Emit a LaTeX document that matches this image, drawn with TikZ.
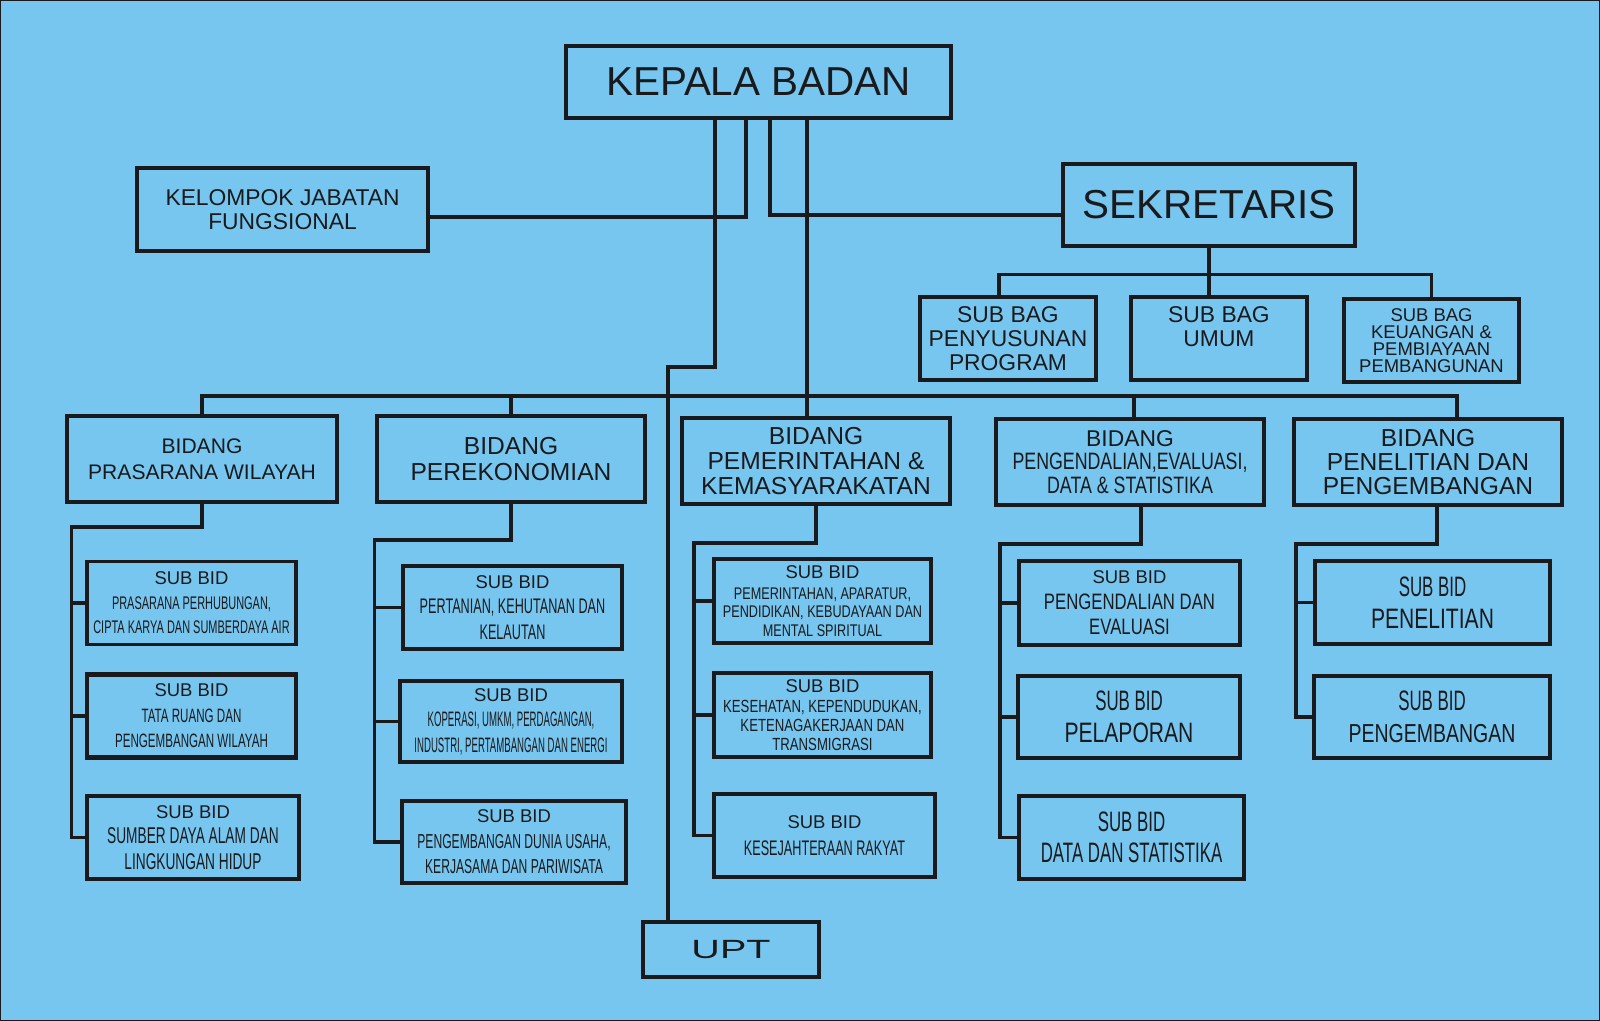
\documentclass[tikz,border=0pt]{standalone}
\usepackage{fontspec}
\setmainfont{Liberation Sans}
\newfontfamily\narrowfont[FakeStretch=0.75]{Liberation Sans}
\newfontfamily\condfont[FakeStretch=0.6]{Liberation Sans}
\newfontfamily\squeezefont[FakeStretch=0.46]{Liberation Sans}
\newfontfamily\widefont[FakeStretch=1.5]{Liberation Sans}
\usetikzlibrary{positioning}
\definecolor{skyblue}{RGB}{118,198,240}
\definecolor{inkline}{RGB}{26,26,28}
\newcommand{\setfs}[2]{\fontsize{#1}{#2}\selectfont}
\newcommand{\cnd}[2]{{\condfont\fontsize{#1}{16}\selectfont #2}}
\newcommand{\nrw}[2]{{\narrowfont\fontsize{#1}{16}\selectfont #2}}
\newcommand{\sqz}[2]{{\squeezefont\fontsize{#1}{16}\selectfont #2}}

\begin{document}
\begin{tikzpicture}[
    x=0.02cm, y=-0.02cm,
    unit/.style={draw=inkline, line width=1.9pt, align=center, inner sep=0pt, text=inkline},
    bidang/.style={unit, minimum width=5.36cm, minimum height=1.72cm},
    subbag/.style={unit, minimum width=3.52cm, minimum height=1.66cm, font=\setfs{13}{13.5}},
    subbid/.style={unit, minimum height=1.66cm},
    link/.style={draw=inkline, line width=1.9pt}
]

% background
\useasboundingbox (0,0) rectangle (1600,1021);
\fill[skyblue] (0,0) rectangle (1600,1021);
\draw[inkline, line width=0.8pt] (0.5,0.5) rectangle (1599.5,1020.5);

% top level
\node[unit, minimum width=7.7cm, minimum height=1.44cm, font=\setfs{23}{26}] (kepala) at (758.5,82) {KEPALA BADAN};
\node[unit, minimum width=5.82cm, minimum height=1.66cm, font=\setfs{13}{14}] (kelompok) at (282.5,209.5) {KELOMPOK JABATAN\\FUNGSIONAL};
\node[unit, minimum width=5.84cm, minimum height=1.64cm, font=\setfs{23}{26}] (sekretaris) at (1209,205) {SEKRETARIS};

% sub bagian
\node[subbag] (sbprog) at (1008,338.5) {SUB BAG\\PENYUSUNAN\\PROGRAM};
\node[subbag] (sbumum) at (1219,338.5) {SUB BAG\\UMUM\\~};
\node[subbag, minimum width=3.5cm, font=\setfs{10.5}{9.6}] (sbkeu) at (1431.5,340.5) {SUB BAG\\KEUANGAN \&\\PEMBIAYAAN\\PEMBANGUNAN};

% bidang
\node[bidang, minimum width=5.4cm, font=\setfs{12}{14.5}] (bid1) at (202,459) {BIDANG\\PRASARANA WILAYAH};
\node[bidang, font=\setfs{14}{15}] (bid2) at (511,459) {BIDANG\\PEREKONOMIAN};
\node[bidang, font=\setfs{14}{14}] (bid3) at (816,461) {BIDANG\\PEMERINTAHAN \&\\KEMASYARAKATAN};
\node[bidang, font=\setfs{13}{13.5}] (bid4) at (1130,462) {BIDANG\\\nrw{13.5}{PENGENDALIAN,EVALUASI,}\\\nrw{13.5}{DATA \& STATISTIKA}};
\node[bidang, font=\setfs{14}{13.5}] (bid5) at (1428,462) {BIDANG\\PENELITIAN DAN\\PENGEMBANGAN};

% sub bidang prasarana wilayah
\node[subbid, minimum width=4.18cm, font=\setfs{10.5}{14}] (p1a) at (191.5,603) {SUB BID\\\cnd{10.4}{PRASARANA PERHUBUNGAN,}\\\cnd{10.4}{CIPTA KARYA DAN SUMBERDAYA AIR}};
\node[subbid, minimum width=4.18cm, line width=2.3pt, font=\setfs{10.5}{14.5}] (p1b) at (191.5,716) {SUB BID\\\cnd{11}{TATA RUANG DAN}\\\cnd{11}{PENGEMBANGAN WILAYAH}};
\node[subbid, minimum width=4.24cm, line width=2.3pt, font=\setfs{10.5}{14.5}] (p1c) at (193,837.5) {SUB BID\\\cnd{13}{SUMBER DAYA ALAM DAN}\\\cnd{13}{LINGKUNGAN HIDUP}};

% sub bidang perekonomian
\node[subbid, minimum width=4.38cm, font=\setfs{10.5}{14.7}] (p2a) at (512.5,607.5) {SUB BID\\\cnd{12}{PERTANIAN, KEHUTANAN DAN}\\\cnd{12}{KELAUTAN}};
\node[subbid, minimum width=4.44cm, minimum height=1.62cm, font=\setfs{10.5}{14.5}] (p2b) at (511,721.5) {SUB BID\\\sqz{11.9}{KOPERASI, UMKM, PERDAGANGAN,}\\\sqz{11.9}{INDUSTRI, PERTAMBANGAN DAN ENERGI}};
\node[subbid, minimum width=4.48cm, minimum height=1.64cm, font=\setfs{10.5}{14.5}] (p2c) at (514,842) {SUB BID\\\cnd{11.5}{PENGEMBANGAN DUNIA USAHA,}\\\cnd{11.5}{KERJASAMA DAN PARIWISATA}};

% sub bidang pemerintahan
\node[subbid, minimum width=4.34cm, minimum height=1.68cm, font=\setfs{10.5}{10.5}] (p3a) at (822.5,601) {SUB BID\\[1.5pt]\nrw{9.6}{PEMERINTAHAN, APARATUR,}\\\nrw{9.6}{PENDIDIKAN, KEBUDAYAAN DAN}\\\nrw{9.6}{MENTAL SPIRITUAL}};
\node[subbid, minimum width=4.34cm, minimum height=1.68cm, font=\setfs{10.5}{10.8}] (p3b) at (822.5,715) {SUB BID\\[1pt]\nrw{10}{KESEHATAN, KEPENDUDUKAN,}\\\nrw{10}{KETENAGAKERJAAN DAN}\\\nrw{10}{TRANSMIGRASI}};
\node[subbid, minimum width=4.42cm, font=\setfs{10.5}{15}] (p3c) at (824.5,835.5) {SUB BID\\\cnd{12}{KESEJAHTERAAN RAKYAT}};

% sub bidang pengendalian
\node[subbid, minimum width=4.42cm, minimum height=1.68cm, font=\setfs{10.5}{14.5}] (p4a) at (1129.5,603) {SUB BID\\\nrw{12.7}{PENGENDALIAN DAN}\\\nrw{12.7}{EVALUASI}};
\node[subbid, minimum width=4.44cm, minimum height=1.64cm, font=\setfs{16}{18}] (p4b) at (1129,717) {\cnd{16}{SUB BID}\\\nrw{16}{PELAPORAN}};
\node[subbid, minimum width=4.5cm, font=\setfs{16}{18}] (p4c) at (1131.5,837.5) {\cnd{16}{SUB BID}\\\cnd{16}{DATA DAN STATISTIKA}};

% sub bidang penelitian
\node[subbid, minimum width=4.7cm, font=\setfs{16}{18}] (p5a) at (1432.5,602.5) {\cnd{16}{SUB BID}\\\nrw{16}{PENELITIAN}};
\node[subbid, minimum width=4.72cm, minimum height=1.64cm, font=\setfs{16}{18}] (p5b) at (1432,717) {\cnd{16}{SUB BID}\\\nrw{14.8}{PENGEMBANGAN}};

% upt
\node[unit, minimum width=3.52cm, minimum height=1.1cm, font=\widefont\setfs{15}{16}] (upt) at (731,949.5) {UPT};

% lines from kepala badan
\coordinate (uptbend) at (668,367);
\draw[link] ([xshift=-0.87cm]kepala.south) |- (uptbend) -- (uptbend |- upt.north);
\draw[link] ([xshift=-0.25cm]kepala.south) |- ([yshift=-0.15cm]kelompok.east);
\draw[link] ([xshift=0.23cm]kepala.south) |- ([yshift=-0.2cm]sekretaris.west);
\coordinate (kd) at ([xshift=0.97cm]kepala.south);
\draw[link] (kd) -- (kd |- bid3.north);

% bidang bus
\coordinate (bus) at (0,396);
\draw[link] (bid1.north) -- (bid1.north |- bus) -- ([xshift=0.58cm]bid5.north |- bus) -- ([xshift=0.58cm]bid5.north);
\draw[link] (bid2.north) -- (bid2.north |- bus);
\draw[link] ([xshift=0.08cm]bid4.north) -- ([xshift=0.08cm]bid4.north |- bus);

% sekretaris to sub bagian
\coordinate (sbus) at (0,274.5);
\draw[link] (sekretaris.south) -- (sekretaris.south |- sbumum.north);
\draw[link] ([xshift=-0.18cm]sbprog.north) |- (sekretaris.south |- sbus) -| (sbkeu.north);

% bidang to sub bidang
\coordinate (j1) at (71.5,527);
\draw[link] (bid1.south) |- (j1) |- (p1c.west);
\draw[link] (j1 |- p1a.west) -- (p1a.west);
\draw[link] (j1 |- p1b.west) -- (p1b.west);

\coordinate (j2) at (374.5,540);
\draw[link] (bid2.south) |- (j2) |- (p2c.west);
\draw[link] (j2 |- p2a.west) -- (p2a.west);
\draw[link] (j2 |- p2b.west) -- (p2b.west);

\coordinate (j3) at (694,543);
\draw[link] (bid3.south) |- (j3) |- (p3c.west);
\draw[link] (j3 |- p3a.west) -- (p3a.west);
\draw[link] (j3 |- p3b.west) -- (p3b.west);

\coordinate (j4) at (1000,544);
\draw[link] ([xshift=0.22cm]bid4.south) |- (j4) |- (p4c.west);
\draw[link] (j4 |- p4a.west) -- (p4a.west);
\draw[link] (j4 |- p4b.west) -- (p4b.west);

\coordinate (j5) at (1296,544);
\draw[link] ([xshift=0.18cm]bid5.south) |- (j5) |- (p5b.west);
\draw[link] (j5 |- p5a.west) -- (p5a.west);

\end{tikzpicture}
\end{document}
